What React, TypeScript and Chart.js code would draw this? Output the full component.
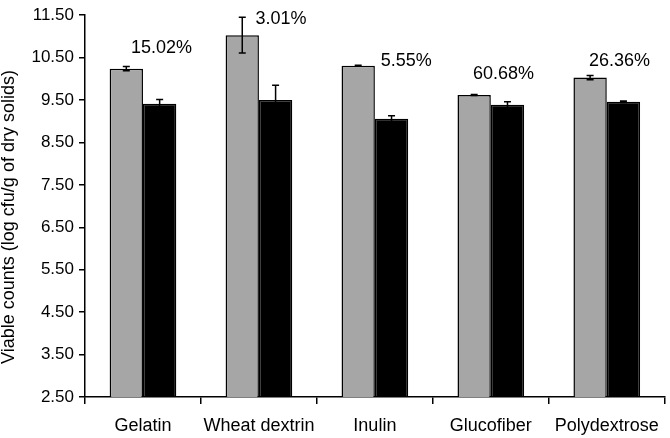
import React, { useEffect, useRef } from "react";
import { Chart, registerables } from "chart.js";

Chart.register(...registerables);

const categories = ["Gelatin", "Wheat dextrin", "Inulin", "Glucofiber", "Polydextrose"];
const beforeValues = [10.24, 11.03, 10.31, 9.62, 10.03];
const beforeErrors = [0.05, 0.42, 0.01, 0.01, 0.05];
const afterValues = [9.41, 9.5, 9.06, 9.39, 9.46];
const afterErrors = [0.1, 0.35, 0.07, 0.07, 0.02];
const lossLabels = ["15.02%", "3.01%", "5.55%", "60.68%", "26.36%"];
const lossLabelY = [10.73, 11.42, 10.43, 10.12, 10.43];
const lossLabelOffset = [0.16, 0.19, 0.27, 0.11, 0.11];
const yTitle = "Viable counts (log cfu/g of dry solids)";
const FONT = "'Liberation Sans', Arial, sans-serif";

const errorBarPlugin = {
  id: "errorBars",
  afterDatasetsDraw(chart: any) {
    const ctx = chart.ctx;
    const y = chart.scales.y;
    const errs = [beforeErrors, afterErrors];
    ctx.save();
    ctx.strokeStyle = "#000";
    ctx.lineWidth = 1.5;
    chart.data.datasets.forEach((ds: any, di: number) => {
      const meta = chart.getDatasetMeta(di);
      meta.data.forEach((bar: any, i: number) => {
        const v = ds.data[i];
        const e = errs[di][i];
        const top = y.getPixelForValue(v + e);
        const bot = y.getPixelForValue(v - e);
        const x = bar.x;
        ctx.beginPath();
        ctx.moveTo(x, top);
        ctx.lineTo(x, bot);
        ctx.moveTo(x - 3.5, top);
        ctx.lineTo(x + 3.5, top);
        ctx.moveTo(x - 3.5, bot);
        ctx.lineTo(x + 3.5, bot);
        ctx.stroke();
      });
    });
    ctx.restore();
  },
  afterDraw(chart: any) {
    const ctx = chart.ctx;
    const x = chart.scales.x;
    const y = chart.scales.y;
    ctx.save();
    ctx.fillStyle = "#000";
    ctx.font = `18px ${FONT}`;
    ctx.textAlign = "center";
    ctx.textBaseline = "middle";
    lossLabels.forEach((t, i) => {
      ctx.fillText(t, x.getPixelForValue(i + lossLabelOffset[i]), y.getPixelForValue(lossLabelY[i]));
    });
    ctx.translate(9, 217);
    ctx.rotate(-Math.PI / 2);
    ctx.font = `18px ${FONT}`;
    ctx.fillText(yTitle, 0, 0);
    ctx.restore();
  },
};

export default function App() {
  const ref = useRef<HTMLCanvasElement>(null);
  useEffect(() => {
    document.body.style.margin = "0";
    const chart = new Chart(ref.current!, {
      type: "bar",
      data: {
        labels: categories,
        datasets: [
          {
            label: "Before",
            data: beforeValues,
            backgroundColor: "#a6a6a6",
            borderColor: "#000",
            borderWidth: 1.5,
            borderSkipped: "start",
          },
          {
            label: "After",
            data: afterValues,
            backgroundColor: "#000",
            borderColor: "#000",
            borderWidth: 1.5,
            borderSkipped: "start",
          },
        ],
      },
      options: {
        animation: false,
        responsive: false,
        maintainAspectRatio: false,
        layout: { padding: { top: 10, right: 2, left: 0, bottom: 0 } },
        plugins: { legend: { display: false }, tooltip: { enabled: false } },
        datasets: { bar: { categoryPercentage: 0.575, barPercentage: 1 } },
        scales: {
          x: {
            grid: { drawOnChartArea: false, drawTicks: true, tickLength: 7, color: "#000", lineWidth: 1.5, offset: true },
            border: { display: true, color: "#000", width: 1.5 },
            ticks: { color: "#000", font: { family: FONT, size: 18 }, padding: 11, maxRotation: 0, autoSkip: false },
            afterFit: (s: any) => { s.height = 41; },
          },
          y: {
            min: 2.5,
            max: 11.5,
            grid: { drawOnChartArea: false, drawTicks: true, tickLength: 6, color: "#000", lineWidth: 1.5 },
            border: { display: true, color: "#000", width: 1.5 },
            ticks: {
              stepSize: 1,
              color: "#000",
              padding: 5,
              font: { family: FONT, size: 17 },
              callback: (v: any) => Number(v).toFixed(2),
            },
            afterFit: (s: any) => { s.width = 85; },
          },
        },
      },
      plugins: [errorBarPlugin],
    });
    return () => chart.destroy();
  }, []);
  return <canvas ref={ref} width={670} height={438} style={{ display: "block" }} />;
}
